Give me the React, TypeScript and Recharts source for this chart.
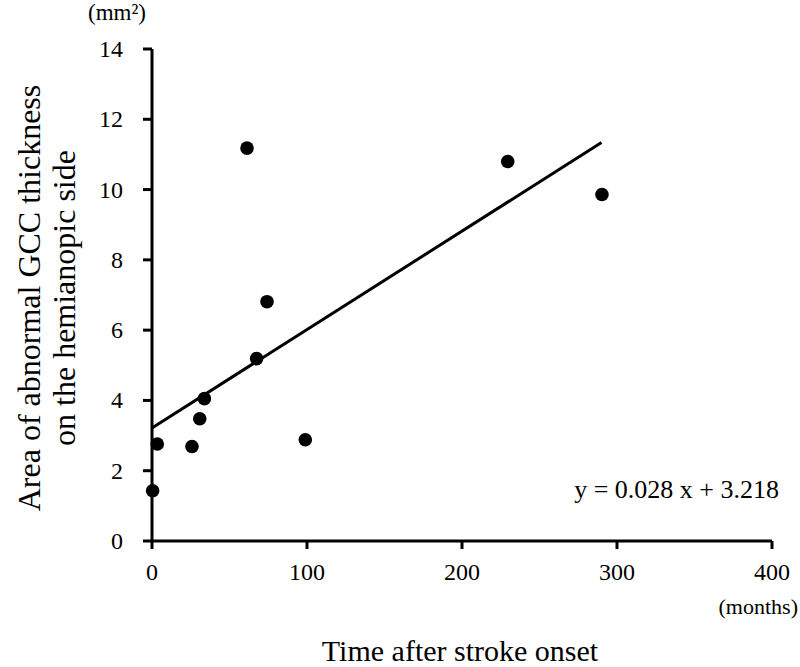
import {
  ReferenceLine,
  Scatter,
  ScatterChart,
  XAxis,
  YAxis,
} from "recharts";

// months after stroke onset
const months = [0.4, 3.4, 25.8, 30.8, 33.8, 61.3, 67.5, 74.2, 98.9, 229.5, 290.3];
// area of abnormal GCC thickness (mm²)
const areas = [1.43, 2.76, 2.69, 3.48, 4.05, 11.18, 5.19, 6.81, 2.88, 10.8, 9.86];

const xTicks = [0, 100, 200, 300, 400];
const yTicks = [0, 2, 4, 6, 8, 10, 12, 14];

// regression y = 0.028 x + 3.218, drawn over the observed range
const slope = 0.028;
const intercept = 3.218;
const fitRange = [0, 290];

const font = "Liberation Serif";

const points = months.map((m, i) => ({ x: m, y: areas[i] }));

const Dot = (props: any) => (
  <circle cx={props.cx} cy={props.cy} r={6.8} fill="#000" />
);

const XTick = ({ x, y, payload }: any) => (
  <text x={x} y={y} dy={31} textAnchor="middle" fontFamily={font} fontSize={24} fill="#000">
    {payload.value}
  </text>
);

const YTick = ({ x, y, payload }: any) => (
  <text x={x} y={y} dy={8} textAnchor="end" fontFamily={font} fontSize={24} fill="#000">
    {payload.value}
  </text>
);

export default function App() {
  return (
    <div style={{ position: "absolute", left: 0, top: 0, width: 800, height: 667, background: "#fff" }}>
      <ScatterChart
        width={800}
        height={667}
        margin={{ top: 49, right: 28, bottom: 86, left: 0 }}
      >
        <XAxis
          type="number"
          dataKey="x"
          domain={[0, 400]}
          ticks={xTicks}
          stroke="#000"
          strokeWidth={3}
          tickSize={8}
          tickMargin={0}
          height={40}
          tick={<XTick />}
        />
        <YAxis
          type="number"
          dataKey="y"
          domain={[0, 14]}
          ticks={yTicks}
          stroke="#000"
          strokeWidth={3}
          tickSize={9}
          tickMargin={20}
          width={152}
          tick={<YTick />}
        />
        <ReferenceLine
          segment={[
            { x: fitRange[0], y: slope * fitRange[0] + intercept },
            { x: fitRange[1], y: slope * fitRange[1] + intercept },
          ]}
          stroke="#000"
          strokeWidth={3}
        />
        <Scatter data={points} shape={Dot} isAnimationActive={false} />

        <text x={88} y={20} fontFamily={font} fontSize={23} fill="#000">
          (mm²)
        </text>
        <text x={798} y={614} textAnchor="end" fontFamily={font} fontSize={22} fill="#000">
          (months)
        </text>
        <text x={460} y={661} textAnchor="middle" fontFamily={font} fontSize={30} fill="#000">
          Time after stroke onset
        </text>
        <text x={779} y={498} textAnchor="end" fontFamily={font} fontSize={26} fill="#000">
          y = 0.028 x + 3.218
        </text>
        <text transform="translate(40,298) rotate(-90)" textAnchor="middle" fontFamily={font} fontSize={32} fill="#000">
          <tspan x={0} dy={0}>Area of abnormal GCC thickness</tspan>
          <tspan x={0} dy={35}>on the hemianopic side</tspan>
        </text>
      </ScatterChart>
    </div>
  );
}
